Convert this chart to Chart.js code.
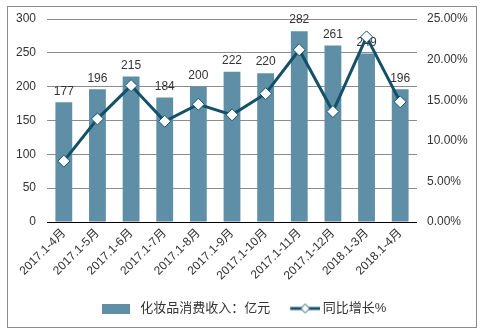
<!DOCTYPE html>
<html>
<head>
<meta charset="utf-8">
<script src="https://cdn.jsdelivr.net/npm/chart.js@4/dist/chart.umd.min.js"></script>
<style>
  html, body { margin: 0; padding: 0; background: #fff; }
  #wrap { width: 484px; height: 335px; }
</style>
</head>
<body>
<div id="wrap"><canvas id="graficoCosmeticos" width="484" height="335"></canvas></div>
<script>
// ---- dados do gráfico

const meses = ['2017.1-4月', '2017.1-5月', '2017.1-6月', '2017.1-7月', '2017.1-8月', '2017.1-9月',
               '2017.1-10月', '2017.1-11月', '2017.1-12月', '2018.1-3月', '2018.1-4月'];
const receita = [177, 196, 215, 184, 200, 222, 220, 282, 261, 249, 196];      // 亿元
const crescimento = [7.5, 12.7, 16.8, 12.4, 14.5, 13.2, 15.8, 21.2, 13.6, 22.8, 14.8]; // %

const corBarra = '#5e8fa6';
const corLinha = '#14506a';
const fonte = '"Liberation Sans", Arial, "Noto Sans CJK SC", sans-serif';

// ---- ícones da legenda

function iconeBarra() {
    const c = document.createElement('canvas');
    c.width = 28; c.height = 10;
    const g = c.getContext('2d');
    g.fillStyle = corBarra;
    g.fillRect(0, 0, 28, 10);
    return c;
}

// a margem transparente à esquerda faz o espaço entre os dois itens
function iconeLinha() {
    const c = document.createElement('canvas');
    c.width = 44; c.height = 12;
    const g = c.getContext('2d');
    g.strokeStyle = corLinha;
    g.lineWidth = 3;
    g.beginPath(); g.moveTo(14, 6); g.lineTo(44, 6); g.stroke();
    g.fillStyle = '#fff';
    g.lineWidth = 1;
    g.beginPath();
    g.moveTo(29, 1.5); g.lineTo(33.5, 6); g.lineTo(29, 10.5); g.lineTo(24.5, 6); g.closePath();
    g.fill(); g.stroke();
    return c;
}

// ---- moldura e fundo

const moldura = {
    id: 'moldura',
    beforeDraw(chart) {
        const ctx = chart.ctx;
        ctx.save();
        ctx.fillStyle = '#fff';
        ctx.fillRect(0, 0, chart.width, chart.height);
        ctx.strokeStyle = '#8c8c8c';
        ctx.lineWidth = 1;
        ctx.strokeRect(7.5, 6.5, 469, 321);
        ctx.restore();
    }
};

// ---- valores acima das barras (desenhados antes da linha)

const rotulosBarras = {
    id: 'rotulosBarras',
    afterDatasetDraw(chart, args) {
        if (args.index !== 0) return;
        const ctx = chart.ctx;
        ctx.save();
        ctx.font = '12px ' + fonte;
        ctx.fillStyle = '#333';
        ctx.textAlign = 'center';
        ctx.textBaseline = 'bottom';
        args.meta.data.forEach((bar, i) => {
            ctx.fillText(receita[i], bar.x, bar.y - 5);
        });
        ctx.restore();
    }
};

const ctx = document.getElementById('graficoCosmeticos').getContext('2d');
let graficoCosmeticos = new Chart(ctx, {
    type: 'bar',
    data: {
        labels: meses,
        datasets: [{
            label: '化妆品消费收入：亿元',
            data: receita,
            backgroundColor: corBarra,
            barPercentage: 0.5,
            categoryPercentage: 1,
            yAxisID: 'y',
            order: 1
        }, {
            type: 'line',
            label: '同比增长%',
            data: crescimento,
            borderColor: corLinha,
            borderWidth: 3,
            pointStyle: 'rectRot',
            pointRadius: 6,
            pointBackgroundColor: '#fff',
            pointBorderColor: corLinha,
            pointBorderWidth: 1,
            tension: 0,
            yAxisID: 'y1',
            order: 0
        }]
    },
    options: {
        responsive: false,
        animation: false,
        layout: { padding: { left: 8, right: 8, top: 19, bottom: 10 } },
        plugins: {
            tooltip: { enabled: false },
            legend: {
                position: 'bottom',
                labels: {
                    usePointStyle: true,
                    padding: 10,
                    color: '#333',
                    font: { size: 13, family: fonte },
                    generateLabels: (chart) => [
                        { text: '化妆品消费收入：亿元', pointStyle: iconeBarra(), datasetIndex: 0, fontColor: '#333', lineWidth: 0, strokeStyle: 'transparent' },
                        { text: '同比增长%', pointStyle: iconeLinha(), datasetIndex: 1, fontColor: '#333', lineWidth: 0, strokeStyle: 'transparent' }
                    ],
                    pointStyleWidth: 36
                }
            }
        },
        scales: {
            x: {
                grid: { display: false, drawTicks: false },
                border: { display: false },
                ticks: {
                    minRotation: 45,
                    maxRotation: 45,
                    padding: 4,
                    color: '#333',
                    font: { size: 12, family: fonte }
                },
                afterFit: (axis) => { axis.height = 70; }
            },
            y: {
                position: 'left',
                min: 0,
                max: 300,
                grid: {
                    color: (c) => c.tick.value === 0 ? '#000' : '#8c8c8c',
                    drawTicks: false
                },
                border: { display: false },
                ticks: {
                    stepSize: 50,
                    padding: 11,
                    color: '#333',
                    font: { size: 12, family: fonte }
                },
                afterFit: (axis) => { axis.width = 39; }
            },
            y1: {
                position: 'right',
                min: 0,
                max: 25,
                grid: { display: false, drawTicks: false },
                border: { display: false },
                ticks: {
                    stepSize: 5,
                    padding: 10,
                    color: '#333',
                    font: { size: 12, family: fonte },
                    callback: (v) => v.toFixed(2) + '%'
                },
                afterFit: (axis) => { axis.width = 59; }
            }
        }
    },
    plugins: [moldura, rotulosBarras]
});
</script>
</body>
</html>
